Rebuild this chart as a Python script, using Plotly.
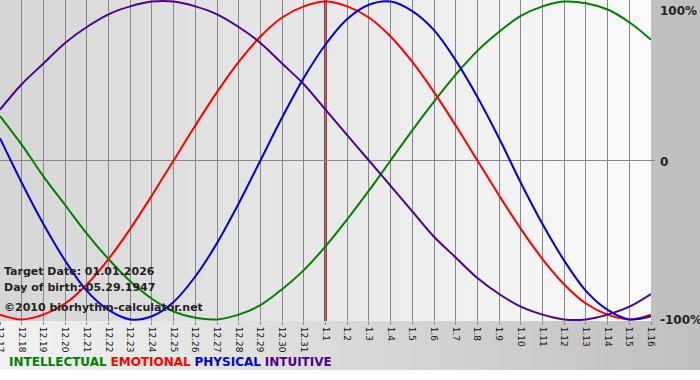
import plotly.graph_objects as go

# ---- data ----
days = ['12.17', '12.18', '12.19', '12.20', '12.21', '12.22', '12.23', '12.24', '12.25', '12.26',
        '12.27', '12.28', '12.29', '12.30', '12.31', '1.1', '1.2', '1.3', '1.4', '1.5', '1.6',
        '1.7', '1.8', '1.9', '1.10', '1.11', '1.12', '1.13', '1.14', '1.15', '1.16']

intellectual = [0.28, 0.10, -0.10, -0.28, -0.46, -0.62, -0.76, -0.87, -0.95, -0.99, -1.00,
                -0.97, -0.91, -0.81, -0.69, -0.54, -0.37, -0.19, 0.00, 0.19, 0.37, 0.54,
                0.69, 0.81, 0.91, 0.97, 1.00, 0.99, 0.95, 0.87, 0.76]
emotional = [-0.97, -1.00, -0.97, -0.90, -0.78, -0.62, -0.43, -0.22, 0.00, 0.22, 0.43,
             0.62, 0.78, 0.90, 0.97, 1.00, 0.97, 0.90, 0.78, 0.62, 0.43, 0.22, 0.00,
             -0.22, -0.43, -0.62, -0.78, -0.90, -0.97, -1.00, -0.97]
physical = [0.14, -0.14, -0.40, -0.63, -0.82, -0.94, -1.00, -0.98, -0.89, -0.73, -0.52,
            -0.27, 0.00, 0.27, 0.52, 0.73, 0.89, 0.98, 1.00, 0.94, 0.82, 0.63, 0.40,
            0.14, -0.14, -0.40, -0.63, -0.82, -0.94, -1.00, -0.98]
intuitive = [0.32, 0.48, 0.61, 0.74, 0.84, 0.92, 0.97, 1.00, 1.00, 0.97, 0.92, 0.84, 0.74,
             0.61, 0.48, 0.32, 0.16, 0.00, -0.16, -0.32, -0.48, -0.61, -0.74, -0.84,
             -0.92, -0.97, -1.00, -1.00, -0.97, -0.92, -0.84]

series_names = ['INTELLECTUAL', 'EMOTIONAL', 'PHYSICAL', 'INTUITIVE']
series_colors = ['#008000', '#ff0000', '#0000e0', '#500090']
y_tick_vals = [1, 0, -1]
y_tick_text = ['100%', '0', '-100%']
target_day = '1.1'
info_lines = ['Target Date: 01.01.2026', 'Day of birth: 05.29.1947']
credit = '©2010 biorhythm-calculator.net'

W, H = 700, 380
ML, MR, MT, MB = 0, 49, 0, 59
PW, PH = W - ML - MR, H - MT - MB

fig = go.Figure()
for name, vals, col in zip(series_names, [intellectual, emotional, physical, intuitive], series_colors):
    fig.add_trace(go.Scatter(x=days, y=vals, mode='lines', name=name,
                             line=dict(color=col, width=2, shape='spline'), hoverinfo='skip'))

def lerp(c0, c1, t):
    return '#%02x%02x%02x' % tuple(int(round(a + (b - a) * t)) for a, b in zip(c0, c1))

shapes = []
n = 80
# plot-area gradient
for i in range(n):
    shapes.append(dict(type='rect', xref='paper', yref='paper', x0=i / n, x1=(i + 1) / n + 0.002,
                       y0=0, y1=1, fillcolor=lerp((0xd6, 0xd6, 0xd6), (0xfb, 0xfb, 0xfb), i / (n - 1)),
                       line=dict(width=0), layer='below'))
# right grey column
xr = W / PW
yb = -(370 - (MT + PH)) / PH
shapes.append(dict(type='rect', xref='paper', yref='paper', x0=1, x1=xr, y0=yb, y1=1,
                   fillcolor='#c0c0c0', line=dict(width=0), layer='below'))
# bottom band gradient
for i in range(n):
    shapes.append(dict(type='rect', xref='paper', yref='paper', x0=i / n * xr, x1=(i + 1) / n * xr + 0.002,
                       y0=yb, y1=0, fillcolor=lerp((0xf2, 0xf2, 0xf2), (0xc0, 0xc0, 0xc0), i / (n - 1)),
                       line=dict(width=0), layer='below'))
# short extension of the zero line past the plot edge
shapes.append(dict(type='line', xref='paper', yref='y', x0=1, x1=1 + 4 / PW, y0=0, y1=0,
                   line=dict(color='#888888', width=1)))

ti = days.index(target_day)
shapes.append(dict(type='line', xref='x', yref='paper', x0=ti, x1=ti, y0=0, y1=1,
                   line=dict(color='#800000', width=2.5), layer='between'))

annotations = []
for v, t in zip(y_tick_vals, y_tick_text):
    annotations.append(dict(xref='paper', yref='y', x=1 + 7 / PW, y=v, text='<b>%s</b>' % t,
                            showarrow=False, xanchor='left',
                            yanchor='top' if v == 1 else 'middle', yshift=-1 if v != 1 else 0,
                            font=dict(family='DejaVu Sans', size=12, color='#222222')))
for k, line in enumerate(info_lines):
    annotations.append(dict(xref='paper', yref='paper', x=2 / PW, y=1 - (271 + 16 * k) / PH,
                            text='<b>%s</b>' % line, showarrow=False, xanchor='left', yanchor='middle',
                            font=dict(family='DejaVu Sans', size=11, color='#222222')))
annotations.append(dict(xref='paper', yref='paper', x=2 / PW, y=1 - 307 / PH,
                        text='<b>%s</b>' % credit, showarrow=False, xanchor='left', yanchor='middle',
                        font=dict(family='DejaVu Sans', size=11, color='#222222')))
legend_html = ' '.join('<span style="color:%s"><b>%s</b></span>' % (c, n_) for n_, c in zip(series_names, series_colors))
annotations.append(dict(xref='paper', yref='paper', x=7 / PW, y=1 - 362 / PH, text=legend_html,
                        showarrow=False, xanchor='left', yanchor='middle',
                        font=dict(family='DejaVu Sans', size=12)))

fig.update_layout(
    width=W, height=H, margin=dict(l=ML, r=MR, t=MT, b=MB, pad=0, autoexpand=False),
    paper_bgcolor='white', plot_bgcolor='rgba(0,0,0,0)', showlegend=False,
    shapes=shapes, annotations=annotations,
    xaxis=dict(type='category', range=[0, len(days) - 1], showgrid=True, gridcolor='#888888', gridwidth=1,
               tickangle=90, tickfont=dict(family='DejaVu Sans', size=9, color='#111111'),
               ticks='outside', ticklen=3, tickcolor='#888888', zeroline=False, showline=False,
               fixedrange=True, automargin=False),
    yaxis=dict(range=[-1.01, 1.01], showgrid=False, zeroline=True, zerolinecolor='#888888',
               zerolinewidth=1, showticklabels=False, ticks='', fixedrange=True, automargin=False),
)
fig.write_html('out.html', config={'displayModeBar': False},
               post_script="document.body.style.margin='0';document.body.style.overflow='hidden';")
